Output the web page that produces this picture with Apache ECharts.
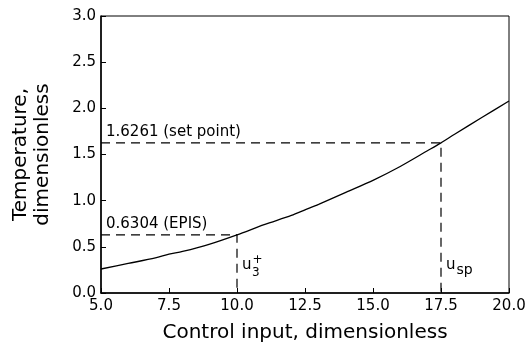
<!DOCTYPE html>
<html><head><meta charset="utf-8">
<script src="https://cdn.jsdelivr.net/npm/echarts@6/dist/echarts.min.js"></script>
<style>html,body{margin:0;padding:0;background:#fff}#c{width:527px;height:351px}</style>
</head><body><div id="c"></div>
<script>
const controlInput = [5, 6, 7, 7.5, 8, 9, 10, 11, 12, 12.5, 13, 14, 15, 16, 17, 17.5, 18, 19, 20];
const temperature = [0.26, 0.32, 0.38, 0.42, 0.45, 0.53, 0.6304, 0.74, 0.84, 0.90, 0.96, 1.09, 1.22, 1.37, 1.54, 1.6261, 1.72, 1.90, 2.08];
const episU = 10.0, episT = 0.6304, episLabel = '0.6304 (EPIS)';
const spU = 17.5, spT = 1.6261, spLabel = '1.6261 (set point)';
const xTicks = [5.0, 7.5, 10.0, 12.5, 15.0, 17.5, 20.0];
const yTicks = [0.0, 0.5, 1.0, 1.5, 2.0, 2.5, 3.0];
const FONT = 'DejaVu Sans';
const chart = echarts.init(document.getElementById('c'));
const dash = {color:'#000', width:1.2, type:[9,6]};
chart.setOption({
  animation:false,
  backgroundColor:'#fff',
  textStyle:{fontFamily:FONT, color:'#000'},
  grid:{left:101, right:18, top:16, bottom:58, show:true, borderColor:'#000', borderWidth:1,
        containLabel:false, outerBoundsMode:'none'},
  xAxis:{type:'value', min:5, max:20, interval:2.5,
    name:'Control input, dimensionless', nameLocation:'middle', nameGap:30,
    nameTextStyle:{fontFamily:FONT, fontSize:20, color:'#000'},
    axisLine:{lineStyle:{color:'#000', width:1.5}},
    axisTick:{inside:true, length:5, lineStyle:{color:'#000'}},
    splitLine:{show:false},
    axisLabel:{fontFamily:FONT, fontSize:15, color:'#000', margin:6, formatter:v=>v.toFixed(1)}},
  yAxis:{type:'value', min:0, max:3, interval:0.5,
    name:'Temperature,\ndimensionless', nameLocation:'middle', nameGap:47, nameRotate:90,
    nameTextStyle:{fontFamily:FONT, fontSize:20, color:'#000', lineHeight:22},
    axisLine:{lineStyle:{color:'#000', width:1.5}},
    axisTick:{inside:true, length:5, lineStyle:{color:'#000'}},
    splitLine:{show:false},
    axisLabel:{fontFamily:FONT, fontSize:15, color:'#000', margin:5, formatter:v=>v.toFixed(1)}},
  series:[
    {type:'line', data:controlInput.map((x,i)=>[x,temperature[i]]), smooth:0.3, symbol:'none',
     lineStyle:{color:'#000', width:1.3}},
    {type:'line', symbol:'none', lineStyle:dash, silent:true,
     data:[[5,spT],[spU,spT],[spU,0]]},
    {type:'line', symbol:'none', lineStyle:dash, silent:true,
     data:[[5,episT],[episU,episT],[episU,0]]},
    {type:'scatter', symbolSize:0, silent:true, itemStyle:{opacity:1, color:'#000'},
     data:[
       {value:[5,spT], label:{show:true, position:'right', formatter:spLabel, offset:[0,-11], fontSize:15, color:'#000', fontFamily:FONT}},
       {value:[5,episT], label:{show:true, position:'right', formatter:episLabel, offset:[0,-11], fontSize:15, color:'#000', fontFamily:FONT}},
       {value:[episU,0.3], label:{show:true, position:'right', offset:[0,0],
         formatter:'{u|u}{s|+}', rich:{u:{fontSize:15, fontFamily:FONT, color:'#000'}, s:{fontSize:12, fontFamily:FONT, color:'#000', padding:[0,0,10,1]}}}},
       {value:[episU,0.3], label:{show:true, position:'right', offset:[10,8], formatter:'3', fontSize:12, fontFamily:FONT, color:'#000'}},
       {value:[spU,0.3], label:{show:true, position:'right', offset:[0,0],
         formatter:'{u|u}{s|sp}', rich:{u:{fontSize:15, fontFamily:FONT, color:'#000'}, s:{fontSize:14, fontFamily:FONT, color:'#000', padding:[10,0,0,1]}}}}
     ]}
  ]
});
</script></body></html>
